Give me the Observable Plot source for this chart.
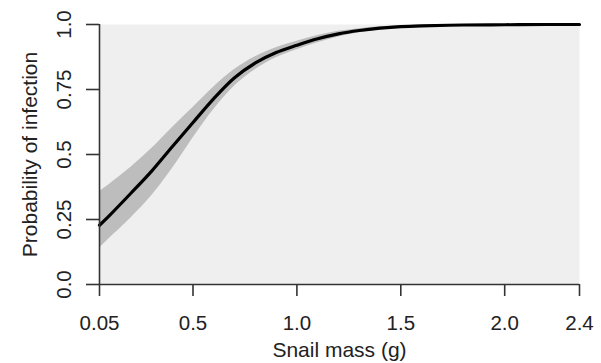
<!DOCTYPE html>
<html>
<head>
<meta charset="utf-8">
<script src="https://cdn.jsdelivr.net/npm/d3@7"></script>
<script src="https://cdn.jsdelivr.net/npm/@observablehq/plot@0.6"></script>
<style>
  html, body { margin: 0; padding: 0; background: #ffffff; }
</style>
</head>
<body>
<div id="chart"></div>
<script>
// Snail mass (g)
const mass  = [0.05, 0.1, 0.2, 0.3, 0.4, 0.5, 0.6, 0.7, 0.8, 0.9, 1.0, 1.1, 1.2, 1.3, 1.4, 1.5, 1.6, 1.8, 2.0, 2.2, 2.36];
// Fitted probability of infection
const prob  = [0.228, 0.267, 0.35, 0.435, 0.53, 0.623, 0.715, 0.795, 0.852, 0.892, 0.92, 0.945, 0.964, 0.977, 0.986, 0.992, 0.995, 0.998, 0.999, 1.0, 1.0];
// Confidence band
const upper = [0.358, 0.387, 0.45, 0.522, 0.603, 0.681, 0.76, 0.827, 0.876, 0.911, 0.936, 0.958, 0.974, 0.984, 0.991, 0.995, 0.997, 0.999, 1.0, 1.0, 1.0];
const lower = [0.14, 0.179, 0.255, 0.34, 0.445, 0.563, 0.673, 0.763, 0.827, 0.872, 0.903, 0.93, 0.952, 0.968, 0.979, 0.987, 0.991, 0.996, 0.998, 0.999, 1.0];

const xTicks = [0.05, 0.5, 1.0, 1.5, 2.0, 2.36];
const xTickLabels = ["0.05", "0.5", "1.0", "1.5", "2.0", "2.4"];
const yTicks = [0, 0.25, 0.5, 0.75, 1.0];
const yTickLabels = ["0.0", "0.25", "0.5", "0.75", "1.0"];
const xLabel = "Snail mass (g)";
const yLabel = "Probability of infection";

const data = mass.map((m, i) => ({mass: m, prob: prob[i], lo: lower[i], hi: upper[i]}));

const chart = Plot.plot({
  width: 601,
  height: 363,
  marginLeft: 99,
  marginRight: 22,
  marginTop: 24,
  marginBottom: 79,
  style: {
    fontFamily: "'Liberation Sans', Arial, sans-serif",
    fontSize: "21px",
    color: "#222",
    background: "#ffffff"
  },
  x: {domain: [0.05, 2.36]},
  y: {domain: [0, 1]},
  marks: [
    Plot.frame({fill: "#efefef", stroke: "none"}),
    Plot.areaY(data, {x: "mass", y1: "lo", y2: "hi", fill: "#bdbdbd", curve: "catmull-rom"}),
    Plot.lineY(data, {x: "mass", y: "prob", stroke: "#000", strokeWidth: 3.2, curve: "catmull-rom"}),
    Plot.ruleY([0], {stroke: "#333", strokeWidth: 1.6}),
    Plot.ruleX([0.05], {stroke: "#333", strokeWidth: 1.6}),
    Plot.axisX(xTicks, {
      anchor: "bottom",
      tickSize: 12,
      tickPadding: 19,
      tickFormat: (d) => xTickLabels[xTicks.indexOf(d)],
      label: null,
      stroke: "#333",
      strokeWidth: 1.6,
      fontSize: 20.5
    }),
    Plot.axisY(yTicks, {
      anchor: "left",
      tickSize: 13,
      tickPadding: 16,
      tickRotate: -90,
      tickFormat: (d) => yTickLabels[yTicks.indexOf(d)],
      label: null,
      stroke: "#333",
      strokeWidth: 1.6,
      fontSize: 20.5
    }),
    Plot.text([xLabel], {frameAnchor: "bottom", dy: 72, text: d => d, textAnchor: "middle", lineAnchor: "bottom", fontSize: 21, fill: "#222"}),
    Plot.text([yLabel], {frameAnchor: "left", dx: -63, rotate: -90, text: d => d, textAnchor: "middle", lineAnchor: "bottom", fontSize: 21, fill: "#222"})
  ]
});
document.getElementById("chart").appendChild(chart);
</script>
</body>
</html>
